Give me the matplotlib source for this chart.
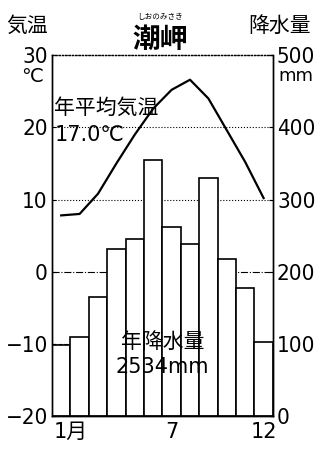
"""
Climate chart (hythergraph) for Shionomisaki: monthly temp line + precip bars.
"""
import matplotlib
matplotlib.use("Agg")
import matplotlib.pyplot as plt
import matplotlib.transforms as mtransforms

months = list(range(12))
month_ticks = [0, 6, 11]
month_labels = ["1月", "7", "12"]

temp_c = [7.8, 8.0, 10.8, 15.0, 19.0, 22.6, 25.2, 26.6, 24.0, 19.6, 15.2, 10.2]
precip_mm = [98, 110, 165, 232, 245, 355, 262, 238, 330, 218, 178, 103]

temp_ticks = [-20, -10, 0, 10, 20, 30]
precip_ticks = [0, 100, 200, 300, 400, 500]

plt.rcParams["font.family"] = ["DejaVu Sans", "Noto Sans CJK JP"]
NUM = dict(family=["DejaVu Sans"], stretch="condensed", fontsize=16)

fig = plt.figure(figsize=(3.2, 4.55), dpi=100)
ax = fig.add_axes([0.1625, 0.0857, 0.69, 0.793])
ax2 = ax.twinx()
ax.set_zorder(1)
ax.patch.set_visible(False)
ax2.set_zorder(2)

# grid lines behind bars (precip axis: 100..400 = -10..20 C)
for g, ls in zip(precip_ticks[1:-1], ["--", "-.", ":", ":"]):
    ax.axhline(g, color="black", lw=0.8, ls=ls, zorder=0)

ax.bar(months, precip_mm, width=1.0, color="white", edgecolor="black",
       linewidth=1.2, zorder=2)
ax.set_xlim(-0.5, 11.5)
ax.set_ylim(0, 500)
ax.yaxis.tick_right()
ax.set_yticks(precip_ticks)
ax.set_yticklabels([str(t) for t in precip_ticks], **NUM)
ax.tick_params(axis="y", direction="in", length=3, pad=3)
ax.set_xticks(month_ticks)
ax.set_xticklabels(month_labels, family=["DejaVu Sans", "Noto Sans CJK JP"],
                   fontsize=15)
ax.tick_params(axis="x", length=0, pad=4)
first = ax.get_xticklabels()[0]
first.set_transform(first.get_transform()
                    + mtransforms.ScaledTranslation(0.1, 0, fig.dpi_scale_trans))

ax2.plot(months, temp_c, color="black", lw=1.6)
ax2.set_ylim(-20, 30)
ax2.yaxis.tick_left()
ax2.set_yticks(temp_ticks)
ax2.set_yticklabels([str(t).replace("-", "\u2212") for t in temp_ticks], **NUM)
ax2.tick_params(axis="y", direction="in", length=3, pad=3)

for a in (ax, ax2):
    a.spines["top"].set_linestyle(":")
    a.spines["top"].set_linewidth(0.9)
    for s in ("left", "right", "bottom"):
        a.spines[s].set_linewidth(1.0)

# units under top tick labels
fig.text(0.10, 0.832, "℃", fontsize=14, ha="center", va="center",
         family=["DejaVu Sans"])
fig.text(0.925, 0.832, "mm", fontsize=13, ha="center", va="center",
         family=["DejaVu Sans"])

# headers
fig.text(0.085, 0.943, "気温", fontsize=15, ha="center", va="center",
         family=["Noto Sans CJK JP"])
fig.text(0.875, 0.943, "降水量", fontsize=15, ha="center", va="center",
         family=["Noto Sans CJK JP"])
fig.text(0.5, 0.913, "潮岬", fontsize=20, ha="center", va="center",
         fontweight="bold", family=["Noto Sans CJK JP"])
fig.text(0.5, 0.963, "しおのみさき", fontsize=5.5, ha="center", va="center",
         family=["Noto Sans CJK JP"])

# annotations
ax2.text(0.01, 0.855, "年平均気温", transform=ax2.transAxes, fontsize=15,
         ha="left", va="center", family=["Noto Sans CJK JP"])
ax2.text(0.01, 0.78, "17.0℃", transform=ax2.transAxes, fontsize=15,
         ha="left", va="center", family=["DejaVu Sans"])
ax2.text(0.5, 0.205, "年降水量", transform=ax2.transAxes, fontsize=15,
         ha="center", va="center", family=["Noto Sans CJK JP"])
ax2.text(0.5, 0.135, "2534mm", transform=ax2.transAxes, fontsize=15,
         ha="center", va="center", family=["DejaVu Sans"])

fig.savefig("out.png", dpi=100)
